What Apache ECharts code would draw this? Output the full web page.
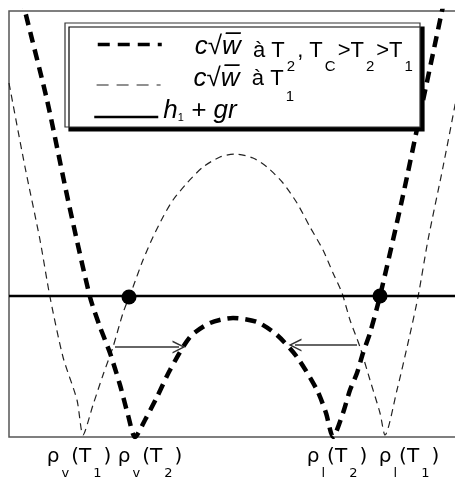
<!DOCTYPE html>
<html>
<head>
<meta charset="utf-8">
<script src="https://cdn.jsdelivr.net/npm/echarts@6/dist/echarts.min.js"></script>
<style>
  html, body { margin: 0; padding: 0; background: #fff; }
  #chart { width: 455px; height: 477px; }
</style>
</head>
<body>
<div id="chart"></div>
<script>
// c*sqrt(w) at T2 (thick dashes): [rho, value]
const curveT2 = [
  [13, 440], [16, 426], [38, 337], [59, 237], [81, 140], [91, 110], [101, 84], [111, 52], [119, 22], [126, 0],
  [136, 17], [148, 40], [161, 67], [181, 100], [201, 114], [224, 119], [248, 115], [268, 102], [288, 80],
  [308, 47], [317, 24], [324, 0],
  [334, 24], [341, 47], [348, 64], [354, 84], [361, 104], [371, 141], [393, 237], [412, 327], [433, 426], [436, 440]
];
// c*sqrt(w) at T1 (thin dashes)
const curveT1 = [
  [0, 354], [16, 270], [31, 197], [41, 140], [54, 80], [68, 37], [74, 2],
  [84, 32], [94, 62], [104, 90], [114, 124], [124, 150], [134, 177], [144, 200], [154, 220], [164, 237],
  [178, 254], [194, 270], [211, 280], [226, 283], [244, 279], [258, 270], [274, 254], [288, 234],
  [301, 210], [314, 187], [324, 164], [333, 144], [341, 117], [351, 90], [361, 57], [371, 24], [376, 2],
  [388, 47], [399, 94], [409, 140], [419, 197], [434, 270], [446, 332], [449, 350]
];
// h1 + g*r level
const hLevel = 141;
const rhoRange = [0, 449];
const valueRange = [0, 426];
// coexistence points
const coexist = [[120, 140], [371, 141]];
// arrows [from, to]
const arrows = [
  [[106, 90], [170, 90]],
  [[348, 92], [286, 92]]
];
// bottom tick labels
const rhoTicks = [70, 141, 328, 400];
const rhoLabels = [
  '{m|ρ}{s|v}{m|(T}{s|1}{m|)}',
  '{m|ρ}{s|v}{m|(T}{s|2}{m|)}',
  '{m|ρ}{s|l}{m|(T}{s|2}{m|)}',
  '{m|ρ}{s|l}{m|(T}{s|1}{m|)}'
];
const names = ['T2', 'T1', 'h'];

const chart = echarts.init(document.getElementById('chart'));

const legendFont = 'Liberation Sans';
function legendRow(name, top, left, fmt, rich, line) {
  return {
    data: [name],
    orient: 'vertical',
    left: left,
    top: top,
    padding: 0,
    itemWidth: 64,
    itemHeight: 12,
    z: 20,
    selectedMode: false,
    itemStyle: { opacity: 0 },
    lineStyle: line,
    formatter: () => fmt,
    textStyle: { color: '#000', fontFamily: legendFont, rich: rich }
  };
}

const option = {
  animation: false,
  grid: {
    left: 9, right: -3, top: 11, bottom: 40,
    outerBoundsMode: 'none',
    show: true, borderColor: '#555', borderWidth: 1.5, backgroundColor: 'transparent'
  },
  xAxis: {
    type: 'value', min: rhoRange[0], max: rhoRange[1],
    axisLine: { show: false }, axisTick: { show: false }, splitLine: { show: false },
    axisLabel: {
      customValues: rhoTicks,
      margin: 10,
      formatter: v => rhoLabels[rhoTicks.indexOf(v)],
      rich: {
        m: { fontFamily: 'DejaVu Sans', fontSize: 20, color: '#000', verticalAlign: 'top', padding: [0, 0, 0, 0] },
        s: { fontFamily: 'DejaVu Sans', fontSize: 13, color: '#000', verticalAlign: 'top', padding: [20, 2, 0, 2] }
      }
    }
  },
  yAxis: {
    type: 'value', min: valueRange[0], max: valueRange[1],
    axisLine: { show: false }, axisTick: { show: false }, splitLine: { show: false }, axisLabel: { show: false }
  },
  graphic: [{
    type: 'rect', z: 10,
    shape: { x: 65, y: 23, width: 355, height: 104 },
    style: { fill: '#fff', stroke: '#333', lineWidth: 1.2, shadowColor: '#000', shadowOffsetX: 4, shadowOffsetY: 4, shadowBlur: 0 }
  }],
  legend: [
    legendRow('T2', 34, 96,
      '{c|c√w\u0305}{t|  à T}{s|2}{t|, T}{s|C}{t|>T}{s|2}{t|>T}{s|1}',
      {
        c: { fontStyle: 'italic', fontSize: 26, verticalAlign: 'top', padding: [19, 0, 0, 28] },
        t: { fontSize: 22, verticalAlign: 'top', padding: [25, 0, 0, 0] },
        s: { fontSize: 15, verticalAlign: 'top', padding: [44, 2, 0, 2] }
      },
      { width: 3.5, type: [12, 8] }),
    legendRow('T1', 66, 96,
      '{c|c√w\u0305}{t|  à T}{s|1}',
      {
        c: { fontStyle: 'italic', fontSize: 26, verticalAlign: 'top', padding: [0, 0, 0, 28] },
        t: { fontSize: 22, verticalAlign: 'top', padding: [2, 0, 0, 0] },
        s: { fontSize: 15, verticalAlign: 'top', padding: [23, 2, 0, 2] }
      },
      { width: 1.2, type: [12, 8] }),
    legendRow('h', 98, 93,
      '{c|h}{s|1}{c| + gr}',
      {
        c: { fontStyle: 'italic', fontSize: 26, verticalAlign: 'top', padding: [0, 0, 12, 0] },
        s: { fontSize: 11, verticalAlign: 'top', padding: [14, 0, 0, 0] }
      },
      { width: 2.5 })
  ],
  series: [
    {
      name: names[0], type: 'line', data: curveT2, smooth: 0.25, symbol: 'none',
      lineStyle: { color: '#000', width: 4.5, type: [11, 7] }, z: 3
    },
    {
      name: names[1], type: 'line', data: curveT1, smooth: 0.25, symbol: 'none',
      lineStyle: { color: '#222', width: 1.2, type: [7, 5] }, z: 2
    },
    {
      name: names[2], type: 'line', data: [[rhoRange[0], hLevel], [rhoRange[1], hLevel]], symbol: 'none',
      lineStyle: { color: '#000', width: 2.5 }, z: 4
    },
    {
      type: 'scatter', data: coexist, symbolSize: 15,
      itemStyle: { color: '#000', opacity: 1 }, z: 5
    },
    {
      type: 'lines', coordinateSystem: 'cartesian2d', polyline: false,
      data: arrows.map(a => ({ coords: a })),
      symbol: ['none', 'path://M0,12 L6,0 L12,12 L10.5,12 L6,3 L1.5,12 Z'],
      symbolSize: 13,
      lineStyle: { color: '#333', width: 1.5, opacity: 1 }, z: 4
    }
  ]
};

chart.setOption(option);
</script>
</body>
</html>
